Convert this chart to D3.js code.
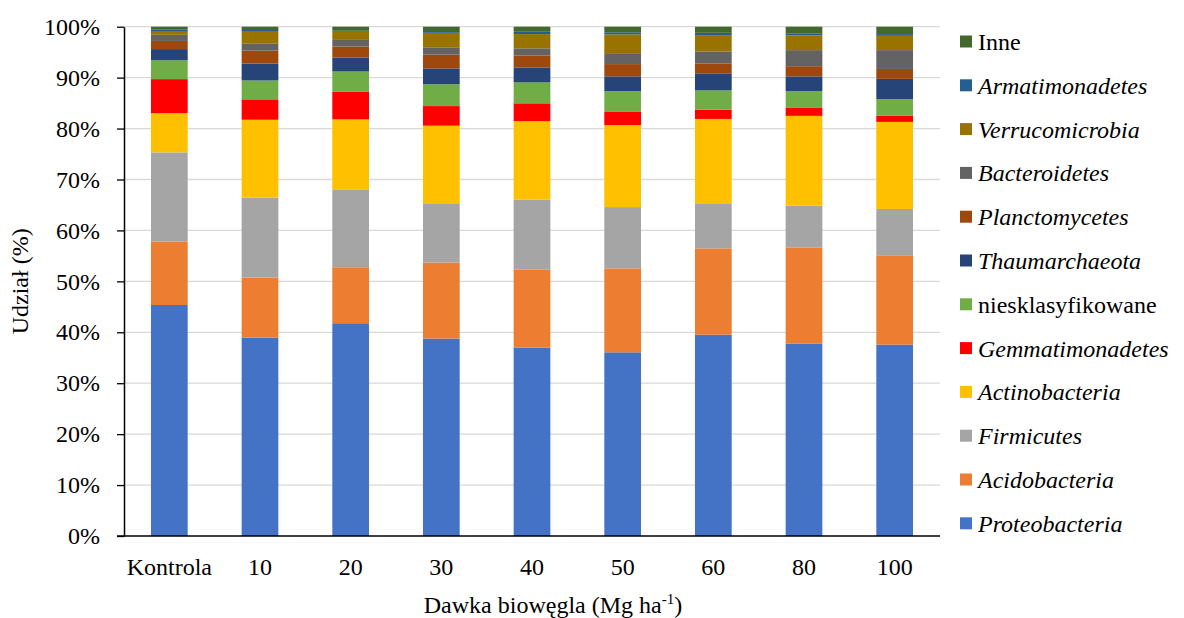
<!DOCTYPE html>
<html>
<head>
<meta charset="utf-8">
<script src="https://cdn.jsdelivr.net/npm/d3@7"></script>
</head>
<body style="margin:0;padding:0;background:#fff">
<svg id="chart" width="1184" height="618" style="display:block"></svg>
<script>
// ---- data ----
const categories = ["Kontrola", "10", "20", "30", "40", "50", "60", "80", "100"];
const seriesNames = ["Proteobacteria", "Acidobacteria", "Firmicutes", "Actinobacteria", "Gemmatimonadetes",
  "niesklasyfikowane", "Thaumarchaeota", "Planctomycetes", "Bacteroidetes", "Verrucomicrobia",
  "Armatimonadetes", "Inne"];
const italicSeries = [true, true, true, true, true, false, true, true, true, true, true, false];
const colors = ["#4472C4", "#ED7D31", "#A5A5A5", "#FFC000", "#FF0000", "#70AD47",
  "#264478", "#9E480E", "#636363", "#997300", "#255E91", "#43682B"];

const proteobacteria    = [45.4, 38.9, 41.8, 38.8, 37.0, 36.1, 39.5, 37.8, 37.6];
const acidobacteria     = [12.5, 11.8, 11.0, 14.95, 15.3, 16.5, 16.95, 18.8, 17.55];
const firmicutes        = [17.5, 15.7, 15.3, 11.65, 13.75, 12.05, 8.85, 8.25, 9.1];
const actinobacteria    = [7.7, 15.25, 13.75, 15.25, 15.45, 16.1, 16.55, 17.65, 17.1];
const gemmatimonadetes  = [6.7, 4.0, 5.4, 3.85, 3.5, 2.7, 1.8, 1.65, 1.25];
const niesklasyfikowane = [3.7, 3.7, 4.0, 4.3, 4.1, 4.0, 3.8, 3.2, 3.2];
const thaumarchaeota    = [2.2, 3.3, 2.7, 3.1, 2.95, 2.9, 3.35, 2.9, 4.0];
const planctomycetes    = [1.6, 2.55, 2.2, 2.7, 2.35, 2.4, 1.95, 2.0, 1.95];
const bacteroidetes     = [1.2, 1.35, 1.3, 1.45, 1.4, 2.0, 2.35, 3.15, 3.7];
const verrucomicrobia   = [0.6, 2.35, 1.6, 2.85, 2.8, 3.85, 3.2, 2.9, 2.8];
const armatimonadetes   = [0.5, 0.35, 0.2, 0.35, 0.45, 0.4, 0.45, 0.4, 0.35];
const inne              = [0.5, 0.65, 0.8, 0.85, 1.0, 1.1, 1.2, 1.3, 1.45];

const yTicks = [0, 0.1, 0.2, 0.3, 0.4, 0.5, 0.6, 0.7, 0.8, 0.9, 1.0];
const xTitle = "Dawka biowęgla (Mg ha";
const xTitleSup = "-1";
const yTitle = "Udział (%)";

const seriesValues = [proteobacteria, acidobacteria, firmicutes, actinobacteria, gemmatimonadetes,
  niesklasyfikowane, thaumarchaeota, planctomycetes, bacteroidetes, verrucomicrobia,
  armatimonadetes, inne];

// ---- build table ----
const table = categories.map((c, i) => {
  const row = { category: c };
  seriesNames.forEach((s, j) => { row[s] = seriesValues[j][i]; });
  return row;
});

const stack = d3.stack().keys(seriesNames).offset(d3.stackOffsetExpand);
const stacked = stack(table);

// ---- layout ----
const SERIF = '"Liberation Serif", "Times New Roman", serif';
const svg = d3.select("#chart");
const plot = { left: 124, right: 940, top: 26.7, bottom: 536 };
const FONT = 24;

const x = d3.scaleBand().domain(categories).range([plot.left, plot.right])
  .paddingInner(0.595).paddingOuter(0.2975);
const y = d3.scaleLinear().domain([0, 1]).range([plot.bottom, plot.top]);

// gridlines
svg.append("g").selectAll("line").data(yTicks.filter(t => t > 0)).join("line")
  .attr("x1", plot.left).attr("x2", plot.right)
  .attr("y1", d => y(d)).attr("y2", d => y(d))
  .attr("stroke", "#d9d9d9").attr("stroke-width", 1.3);

// bars
const gBars = svg.append("g");
stacked.forEach((layer, j) => {
  gBars.append("g").attr("fill", colors[j])
    .selectAll("rect").data(layer).join("rect")
    .attr("x", d => x(d.data.category))
    .attr("width", x.bandwidth())
    .attr("y", d => y(d[1]))
    .attr("height", d => Math.max(0, y(d[0]) - y(d[1])));
});

// y axis
const yAxis = d3.axisLeft(y).tickValues(yTicks).tickFormat(d3.format(".0%"))
  .tickSize(7).tickSizeOuter(0).tickPadding(17);
const gy = svg.append("g").attr("transform", `translate(${plot.left},0)`).call(yAxis);
gy.select(".domain").attr("stroke", "#000").attr("stroke-width", 1.5);
gy.selectAll(".tick line").attr("stroke", "#000").attr("stroke-width", 1.3);
gy.selectAll(".tick text").attr("fill", "#000")
  .style("font-family", SERIF).style("font-size", FONT + "px");

// x axis
const xAxis = d3.axisBottom(x).tickSize(0).tickSizeOuter(0).tickPadding(22);
const gx = svg.append("g").attr("transform", `translate(0,${plot.bottom})`).call(xAxis);
gx.select(".domain").remove();
gx.selectAll(".tick text").attr("fill", "#000")
  .style("font-family", SERIF).style("font-size", FONT + "px");
svg.append("line").attr("x1", plot.left - 7).attr("x2", plot.right)
  .attr("y1", plot.bottom).attr("y2", plot.bottom)
  .attr("stroke", "#000").attr("stroke-width", 1.5);

// axis titles
svg.append("text")
  .attr("transform", `translate(28,${(plot.top + plot.bottom) / 2}) rotate(-90)`)
  .attr("text-anchor", "middle")
  .style("font-family", SERIF).style("font-size", FONT + "px").text(yTitle);

const xt = svg.append("text").attr("x", (plot.left + plot.right) / 2 + 21).attr("y", 613)
  .attr("text-anchor", "middle")
  .style("font-family", SERIF).style("font-size", FONT + "px");
xt.append("tspan").text(xTitle);
xt.append("tspan").style("font-size", "15px").attr("dy", -9).text(xTitleSup);
xt.append("tspan").attr("dy", 9).text(")");

// legend (top to bottom: Inne ... Proteobacteria)
const legendOrder = d3.range(seriesNames.length).reverse();
const legend = svg.append("g");
legendOrder.forEach((j, i) => {
  const cy = 41.5 + i * 43.8;
  legend.append("rect").attr("x", 960).attr("y", cy - 6).attr("width", 12).attr("height", 12)
    .attr("fill", colors[j]);
  legend.append("text").attr("x", 978).attr("y", cy).attr("dy", "0.35em")
    .style("font-family", SERIF).style("font-size", FONT + "px")
    .style("font-style", italicSeries[j] ? "italic" : "normal")
    .text(seriesNames[j]);
});
</script>
</body>
</html>
